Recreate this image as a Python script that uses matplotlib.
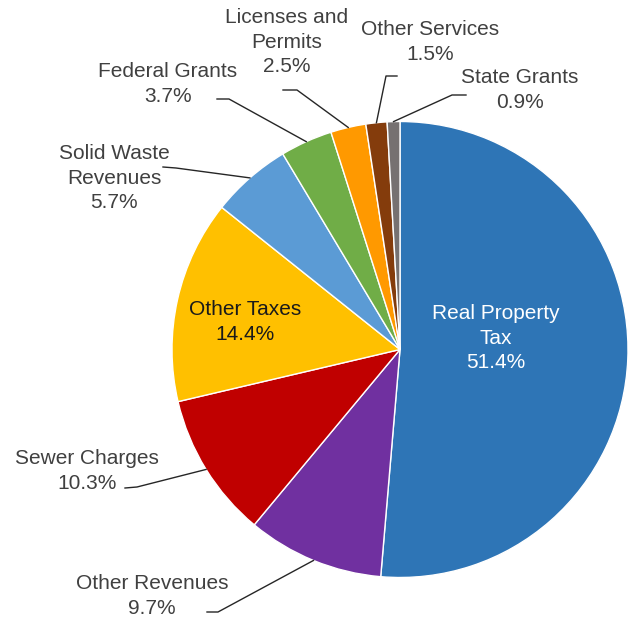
import matplotlib.pyplot as plt
import numpy as np

# Dane
kategorie = ['Real Property\nTax', 'Other Revenues', 'Sewer Charges', 'Other Taxes',
             'Solid Waste\nRevenues', 'Federal Grants', 'Licenses and\nPermits',
             'Other Services', 'State Grants']
udzialy = [51.4, 9.7, 10.3, 14.4, 5.7, 3.7, 2.5, 1.5, 0.9]
kolory = ['#2E75B6', '#7030A0', '#C00000', '#FFC000', '#5B9BD5',
          '#70AD47', '#FF9900', '#843C0C', '#767171']

W, H = 630, 619
cx, cy, r = 400, 349.5, 228

# pozycje etykiet (piksele, y od góry) i punkty załamania linii
poz_etykiet = [(496, 338), (152, 596), (87, 471), (245, 322), (114, 178),
               (168, 84), (287, 42), (430, 42), (520, 90)]
linie = [None, [(207, 612), (218, 612)], [(125, 488), (137, 487)], None,
         [(163, 167), (176, 168)], [(217, 99), (229, 99)], [(283, 90), (297, 90)],
         [(397, 76), (386, 76)], [(466, 95), (452, 95)]]
kolor_tekstu = ['white', '#404040', '#404040', '#1a1a1a', '#404040',
                '#404040', '#404040', '#404040', '#404040']

fig = plt.figure(figsize=(W / 100, H / 100), dpi=100)
ax = fig.add_axes([0, 0, 1, 1])

wedges, _ = ax.pie(udzialy, colors=kolory, startangle=90, counterclock=False,
                   center=(cx, H - cy), radius=r,
                   wedgeprops=dict(edgecolor='white', linewidth=1.0))
ax.set_xlim(0, W)
ax.set_ylim(0, H)
ax.set_aspect('equal')
ax.axis('off')

for w, nazwa, val, (tx, ty), ln, kt in zip(wedges, kategorie, udzialy,
                                           poz_etykiet, linie, kolor_tekstu):
    ax.text(tx, H - ty, f'{nazwa}\n{val}%', ha='center', va='center',
            fontsize=15, color=kt, family='Liberation Sans', linespacing=1.38)
    if ln is not None:
        kat = np.deg2rad((w.theta1 + w.theta2) / 2)
        px = cx + r * np.cos(kat)
        py = H - cy + r * np.sin(kat)
        xs = [p[0] for p in ln] + [px]
        ys = [H - p[1] for p in ln] + [py]
        ax.plot(xs, ys, color='#262626', lw=1.0, zorder=5)

plt.savefig('out.png', dpi=100)
